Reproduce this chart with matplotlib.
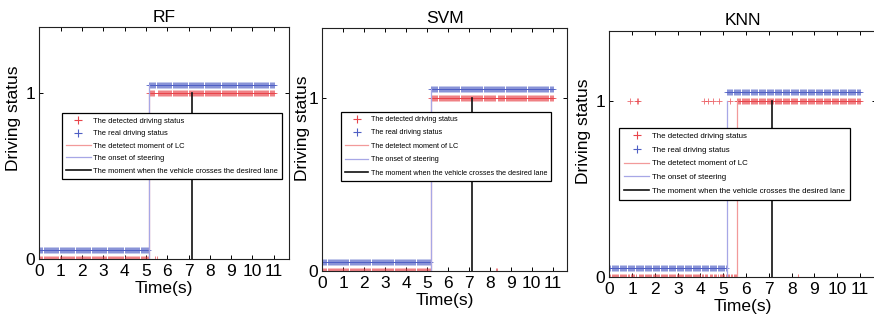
import numpy as np
import matplotlib
matplotlib.use("Agg")
import matplotlib.pyplot as plt

plt.rcParams['font.family'] = ['Liberation Sans', 'DejaVu Sans']

# ---- data ----
dt = 0.05
t_end = 11.0
titles = ["RF", "SVM", "KNN"]
# time at which the real driving status switches from 0 to 1
real_switch = [5.15, 5.2, 5.15]
# detected status: start of continuous "1", isolated 1s before it, and 0-dropouts after
det_on_start = [5.15, 5.2, 5.6]
det_extra_ones = [[], [], [0.9, 1.2, 1.25, 4.15, 4.35, 4.55, 4.8, 5.3]]
det_zero_after = [[5.45, 5.5], [8.3, 8.35], [8.3]]
# vertical reference lines
detect_moment = [5.15, 5.2, 5.6]
onset_steering = [5.15, 5.2, 5.15]
onset_top = [1.05, 1.05, 1.0]
cross_moment = [7.15, 7.15, 7.15]
real_offset = 0.05
xticks = list(range(0, 12))
yticks = [0, 1]

legend_labels = ["The detected driving status", "The real driving status",
                 "The detetect moment of LC", "The onset of steering",
                 "The moment when the vehicle crosses the desired lane"]

# ---- layout (pixels in 874x320 figure) ----
W, H = 874, 320
axes_px = [(39.3, 27.3, 288.7, 258.7), (322.3, 28.3, 567.3, 270.7), (609.3, 30.7, 876.0, 276.7)]
leg_anchor = [(0.090, 0.630), (0.076, 0.656), (0.0375, 0.606)]
leg_fs = [5.45, 5.2, 5.7]
leg_spacing = [0.68, 0.88, 0.78]
ylabel_pos = [(-0.072, 0.606), (-0.05, 0.589), (-0.069, 0.592)]

fig = plt.figure(figsize=(W / 100, H / 100), dpi=100)

red = '#e8444a'
blue = '#4f5fc4'
red_line = '#f29a9a'
blue_line = '#a7a7e6'

time = np.round(np.arange(0, t_end + dt / 2, dt), 3)

for i in range(3):
    l, tp, r, b = axes_px[i]
    ax = fig.add_axes([l / W, 1 - b / H, (r - l) / W, (b - tp) / H])
    real = (time >= real_switch[i] - 1e-9).astype(float)
    det = (time >= det_on_start[i] - 1e-9).astype(float)
    for v in det_extra_ones[i]:
        det[np.isclose(time, v)] = 1.0
    for v in det_zero_after[i]:
        det[np.isclose(time, v)] = 0.0

    h1, = ax.plot(time, det, linestyle='none', marker='+', color=red,
                  markersize=4.5, markeredgewidth=0.6, alpha=0.8)
    h2, = ax.plot(time, real + real_offset, linestyle='none', marker='+', color=blue,
                  markersize=4.5, markeredgewidth=0.6, alpha=0.8)
    h3, = ax.plot([detect_moment[i]] * 2, [0, 1], color=red_line, lw=0.9)
    h4, = ax.plot([onset_steering[i]] * 2, [0, onset_top[i]], color=blue_line, lw=0.9)
    h5, = ax.plot([cross_moment[i]] * 2, [0, 1], color='#111111', lw=1.2)

    ax.set_xlim(0, 11.7)
    ax.set_ylim(0, 1.4)
    ax.set_xticks(xticks)
    ax.set_yticks(yticks)
    ax.tick_params(direction='in', length=3, width=0.7, top=True, right=True,
                   labelsize=12.5)
    ax.tick_params(axis='x', pad=4)
    ax.tick_params(axis='y', pad=3)
    for s in ax.spines.values():
        s.set_linewidth(0.8)
        s.set_color('#222222')
    ax.set_title(titles[i], fontsize=12.5, pad=4)
    ax.set_xlabel("Time(s)", fontsize=12.5, labelpad=1)
    ax.set_ylabel("Driving status", fontsize=12.5)
    ax.yaxis.set_label_coords(*ylabel_pos[i])

    leg = ax.legend([h1, h2, h3, h4, h5], legend_labels, loc='upper left',
                    bbox_to_anchor=leg_anchor[i], borderaxespad=0, fontsize=leg_fs[i],
                    numpoints=1, handlelength=3.2, handletextpad=0.3, borderpad=0.6,
                    labelspacing=leg_spacing[i], fancybox=False, framealpha=1,
                    edgecolor='black', markerscale=1.2)
    leg.get_frame().set_linewidth(0.9)
    for lh in leg.get_lines()[:2]:
        lh.set_alpha(1.0)
        lh.set_markeredgewidth(0.8)

fig.savefig("out.png", dpi=100)
